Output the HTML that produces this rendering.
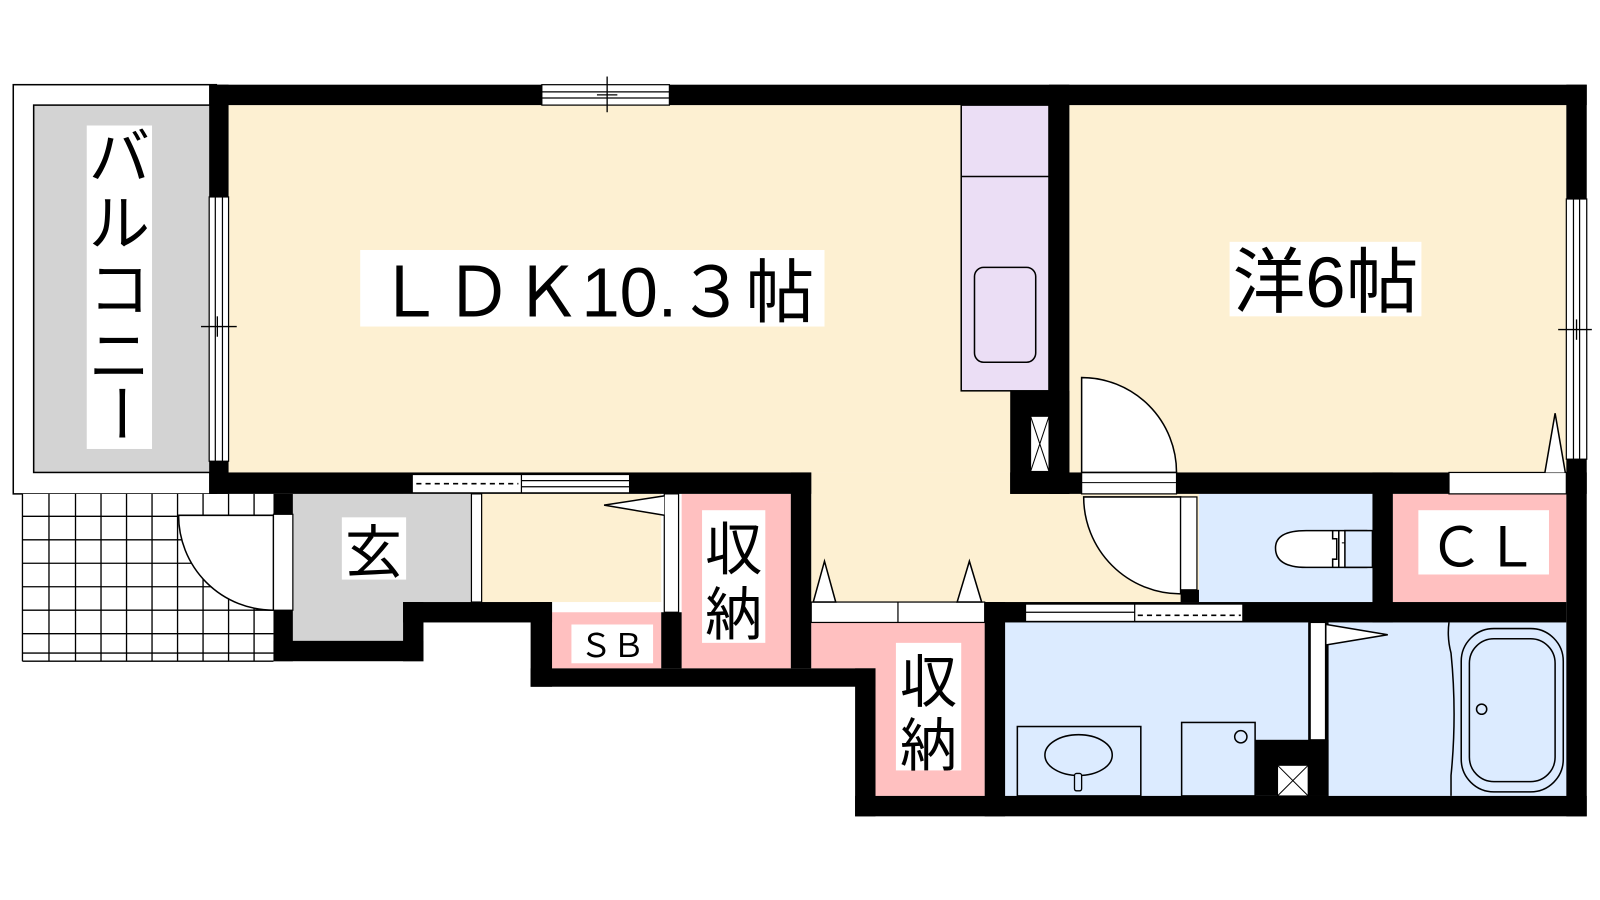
<!DOCTYPE html>
<html><head><meta charset="utf-8"><style>
html,body{margin:0;padding:0;background:#fff;}
svg{display:block}
text{font-family:"Liberation Sans","Noto Sans CJK JP",sans-serif;fill:#000}
</style></head><body>
<svg width="1600" height="900" viewBox="0 0 1568 882" xmlns="http://www.w3.org/2000/svg">
<rect width="1568" height="882" fill="#fff"/>
<!-- balcony -->
<rect x="13" y="83" width="199" height="401" fill="#fff" stroke="#000" stroke-width="1.5"/>
<rect x="33" y="103" width="175" height="360" fill="#d3d3d3" stroke="#000" stroke-width="1.5"/>
<!-- tile area -->
<rect x="22" y="484" width="246" height="164" fill="#fff"/>
<g stroke="#000" stroke-width="1.3">
<line x1="22" y1="484" x2="22" y2="648"/><line x1="48" y1="484" x2="48" y2="648"/><line x1="74" y1="484" x2="74" y2="648"/><line x1="99" y1="484" x2="99" y2="648"/><line x1="124" y1="484" x2="124" y2="648"/><line x1="149" y1="484" x2="149" y2="648"/><line x1="174" y1="484" x2="174" y2="648"/><line x1="199" y1="484" x2="199" y2="648"/><line x1="224" y1="484" x2="224" y2="648"/><line x1="249" y1="484" x2="249" y2="648"/>
<line x1="22" y1="506" x2="268" y2="506"/><line x1="22" y1="529" x2="268" y2="529"/><line x1="22" y1="552" x2="268" y2="552"/><line x1="22" y1="575" x2="268" y2="575"/><line x1="22" y1="598" x2="268" y2="598"/><line x1="22" y1="621" x2="268" y2="621"/><line x1="22" y1="640" x2="268" y2="640"/><line x1="22" y1="648" x2="268" y2="648"/>
</g>
<path d="M268,505 L175,505 A93,93 0 0 0 268,598 Z" fill="#fff" stroke="#000" stroke-width="1.5"/>
<!-- room fills -->
<rect x="224" y="103" width="790" height="360" fill="#fdf0d2"/>
<rect x="1048" y="103" width="487" height="360" fill="#fdf0d2"/>
<rect x="472" y="484" width="176" height="106" fill="#fdf0d2"/>
<rect x="795" y="463" width="380" height="140" fill="#fdf0d2"/>
<rect x="287" y="484" width="177" height="106" fill="#d3d3d3"/>
<rect x="287" y="484" width="108" height="144" fill="#d3d3d3"/>
<rect x="668" y="484" width="107" height="171" fill="#ffc0c0"/>
<rect x="541" y="600" width="107" height="55" fill="#ffc0c0"/>
<rect x="795" y="610" width="170" height="45" fill="#ffc0c0"/>
<rect x="858" y="610" width="107" height="170" fill="#ffc0c0"/>
<rect x="1175" y="484" width="170" height="106" fill="#dcebff"/>
<rect x="1365" y="484" width="170" height="106" fill="#ffc0c0"/>
<rect x="985" y="610" width="550" height="170" fill="#dcebff"/>
<!-- kitchen -->
<rect x="942" y="103" width="86" height="280" fill="#ebdef5" stroke="#000" stroke-width="1.5"/>
<line x1="942" y1="173" x2="1028" y2="173" stroke="#000" stroke-width="1.5"/>
<rect x="955" y="262" width="60" height="93" rx="9" fill="none" stroke="#000" stroke-width="1.5"/>
<!-- walls -->
<g fill="#000">
<rect x="205" y="83" width="1350" height="20"/>
<rect x="205" y="83" width="19" height="110"/>
<rect x="205" y="452" width="19" height="32"/>
<rect x="205" y="463" width="590" height="21"/>
<rect x="775" y="463" width="20" height="192"/>
<rect x="268" y="484" width="19" height="20"/>
<rect x="268" y="598" width="19" height="50"/>
<rect x="268" y="628" width="147" height="20"/>
<rect x="395" y="590" width="20" height="58"/>
<rect x="395" y="590" width="146" height="20"/>
<rect x="520" y="590" width="21" height="83"/>
<rect x="648" y="600" width="20" height="55"/>
<rect x="520" y="655" width="338" height="18"/>
<rect x="838" y="655" width="20" height="145"/>
<rect x="838" y="780" width="717" height="20"/>
<rect x="965" y="590" width="20" height="210"/>
<rect x="965" y="590" width="570" height="20"/>
<rect x="1535" y="83" width="20" height="717"/>
<rect x="1028" y="83" width="20" height="401"/>
<rect x="990" y="383" width="58" height="101"/>
<rect x="990" y="463" width="565" height="21"/>
<rect x="1345" y="463" width="20" height="147"/>
<rect x="1157" y="578" width="18" height="12"/>
<rect x="1230" y="725" width="72" height="55"/>
<rect x="1282" y="610" width="20" height="170"/>
</g>
<!-- windows / openings -->
<rect x="531" y="83" width="125" height="20" fill="#fff" stroke="#000" stroke-width="1.2"/>
<line x1="531" y1="90" x2="656" y2="90" stroke="#000" stroke-width="1.2"/>
<line x1="531" y1="96" x2="656" y2="96" stroke="#000" stroke-width="1.2"/>
<line x1="595" y1="75" x2="595" y2="110" stroke="#000" stroke-width="1.3"/>
<line x1="585" y1="93" x2="605" y2="93" stroke="#000" stroke-width="1.3"/>
<rect x="205" y="193" width="19" height="259" fill="#fff" stroke="#000" stroke-width="1.2"/>
<line x1="211" y1="193" x2="211" y2="452" stroke="#000" stroke-width="1.2"/>
<line x1="218" y1="193" x2="218" y2="452" stroke="#000" stroke-width="1.2"/>
<line x1="197" y1="320" x2="232" y2="320" stroke="#000" stroke-width="1.3"/>
<line x1="213" y1="310" x2="213" y2="330" stroke="#000" stroke-width="1.3"/>
<rect x="1535" y="195" width="20" height="255" fill="#fff" stroke="#000" stroke-width="1.2"/>
<line x1="1542" y1="195" x2="1542" y2="450" stroke="#000" stroke-width="1.2"/>
<line x1="1548" y1="195" x2="1548" y2="450" stroke="#000" stroke-width="1.2"/>
<line x1="1527" y1="323" x2="1560" y2="323" stroke="#000" stroke-width="1.3"/>
<line x1="1545" y1="313" x2="1545" y2="333" stroke="#000" stroke-width="1.3"/>
<!-- LDK/genkan sliding window -->
<rect x="404" y="465" width="213" height="18" fill="#fff" stroke="#000" stroke-width="1.2"/>
<line x1="511" y1="465" x2="511" y2="483" stroke="#000" stroke-width="1.2"/>
<line x1="511" y1="471" x2="617" y2="471" stroke="#000" stroke-width="1.2"/>
<line x1="511" y1="477" x2="617" y2="477" stroke="#000" stroke-width="1.2"/>
<line x1="408" y1="474" x2="508" y2="474" stroke="#000" stroke-width="1.5" stroke-dasharray="5,4"/>
<!-- genkan/corridor step -->
<rect x="462" y="484" width="10" height="106" fill="#fff" stroke="#000" stroke-width="1.2"/>
<!-- genkan door leaf -->
<rect x="268" y="504" width="19" height="94" fill="#fff" stroke="#000" stroke-width="1.2"/>
<!-- storage door -->
<rect x="651" y="484" width="14" height="116" fill="#fff" stroke="#000" stroke-width="1.2"/>
<path d="M651,486 L592,495 L651,505" fill="#fff" stroke="#000" stroke-width="1.5"/>
<!-- lower storage sliding -->
<rect x="795" y="590" width="170" height="20" fill="#fff" stroke="#000" stroke-width="1.2"/>
<line x1="880" y1="590" x2="880" y2="610" stroke="#000" stroke-width="1.2"/>
<path d="M797,590 L808,550 L819,590 Z" fill="#fff" stroke="#000" stroke-width="1.5"/>
<path d="M938,590 L950,550 L962,590 Z" fill="#fff" stroke="#000" stroke-width="1.5"/>
<!-- washroom sliding -->
<rect x="1005" y="592" width="213" height="17" fill="#fff" stroke="#000" stroke-width="1.2"/>
<line x1="1005" y1="600" x2="1112" y2="600" stroke="#000" stroke-width="1.2"/>
<line x1="1112" y1="592" x2="1112" y2="609" stroke="#000" stroke-width="1.2"/>
<line x1="1115" y1="603" x2="1216" y2="603" stroke="#000" stroke-width="1.5" stroke-dasharray="5,4"/>
<!-- kitchen pipe X -->
<rect x="1010" y="408" width="18" height="54" fill="#fff" stroke="#000" stroke-width="1"/>
<path d="M1010,408 L1028,462 M1028,408 L1010,462" stroke="#000" stroke-width="1"/>
<!-- western room door -->
<rect x="1060" y="463" width="93" height="21" fill="#fff" stroke="#000" stroke-width="1.2"/>
<line x1="1060" y1="473" x2="1153" y2="473" stroke="#000" stroke-width="1"/>
<path d="M1060,463 L1060,370 A93,93 0 0 1 1153,463 Z" fill="#fff" stroke="#000" stroke-width="1.5"/>
<!-- CL door -->
<rect x="1420" y="463" width="115" height="21" fill="#fff" stroke="#000" stroke-width="1.2"/>
<path d="M1514,463 L1524,405 L1534,463" fill="#fff" stroke="#000" stroke-width="1.5"/>
<!-- toilet door -->
<path d="M1157,487 L1062,487 A95,95 0 0 0 1157,582 Z" fill="#fff" stroke="#000" stroke-width="1.5"/>
<rect x="1157" y="487" width="16" height="91" fill="#fff" stroke="#000" stroke-width="1.2"/>
<!-- toilet -->
<path d="M1340,520 L1280,520 Q1250,520 1250,537 Q1250,556 1280,556 L1340,556" fill="#fff" stroke="#000" stroke-width="1.5"/>
<path d="M1306,520 L1306,528 L1310,528 L1310,548 L1306,548 L1306,556 M1312,520 L1312,556" fill="none" stroke="#000" stroke-width="1.5"/>
<rect x="1318" y="520" width="27" height="36" fill="#dcebff" stroke="#000" stroke-width="1.5"/>
<line x1="1315" y1="532" x2="1318" y2="532" stroke="#000"/>
<!-- bath -->
<path d="M1420,610 Q1418,625 1422,640 Q1428,700 1422,760 L1422,780" fill="none" stroke="#000" stroke-width="1.5"/>
<rect x="1432" y="616" width="100" height="160" rx="32" fill="none" stroke="#000" stroke-width="1.5"/>
<rect x="1440" y="626" width="84" height="140" rx="24" fill="none" stroke="#000" stroke-width="1.5"/>
<circle cx="1452" cy="695" r="5" fill="none" stroke="#000" stroke-width="1.5"/>
<!-- washroom door -->
<rect x="1284" y="610" width="15" height="115" fill="#fff" stroke="#000" stroke-width="1.2"/>
<path d="M1300,612 L1360,622 L1300,632" fill="#fff" stroke="#000" stroke-width="1.5"/>
<rect x="1252" y="750" width="30" height="30" fill="#fff" stroke="#000" stroke-width="1"/>
<path d="M1252,750 L1282,780 M1282,750 L1252,780" stroke="#000" stroke-width="1"/>
<!-- sink -->
<rect x="997" y="712" width="121" height="68" fill="none" stroke="#000" stroke-width="1.5"/>
<ellipse cx="1057" cy="740" rx="33" ry="20" fill="none" stroke="#000" stroke-width="1.5"/>
<rect x="1053" y="758" width="7" height="17" rx="2" fill="#dcebff" stroke="#000" stroke-width="1.3"/>
<rect x="1158" y="708" width="72" height="72" fill="none" stroke="#000" stroke-width="1.5"/>
<circle cx="1216" cy="722" r="6" fill="none" stroke="#000" stroke-width="1.5"/>
<!-- labels -->
<rect x="353" y="245" width="455" height="75" fill="#fff"/>
<text x="368" y="310" font-size="68" textLength="430" lengthAdjust="spacingAndGlyphs">ＬＤＫ10.３帖</text>
<rect x="1205" y="237" width="188" height="73" fill="#fff"/>
<text x="1208" y="301" font-size="70" textLength="182" lengthAdjust="spacingAndGlyphs">洋6帖</text>
<rect x="85" y="123" width="64" height="317" fill="#fff"/>
<text font-size="60" x="117" text-anchor="middle"><tspan x="117" y="175">バ</tspan><tspan x="117" y="240">ル</tspan><tspan x="117" y="305">コ</tspan><tspan x="117" y="370">ニ</tspan></text>
<text font-size="60" x="0" y="0" text-anchor="middle" transform="translate(117,405) rotate(90) translate(0,20)">ー</text>
<rect x="335" y="507" width="63" height="61" fill="#fff"/>
<text x="366" y="561" font-size="56" text-anchor="middle">玄</text>
<rect x="688" y="500" width="62" height="130" fill="#fff"/>
<text x="719" y="558" font-size="56" text-anchor="middle">収</text>
<text x="719" y="622" font-size="56" text-anchor="middle">納</text>
<rect x="878" y="630" width="64" height="125" fill="#fff"/>
<text x="910" y="688" font-size="56" text-anchor="middle">収</text>
<text x="910" y="750" font-size="56" text-anchor="middle">納</text>
<rect x="560" y="612" width="80" height="38" fill="#fff"/>
<text x="600" y="644" font-size="32" text-anchor="middle">ＳＢ</text>
<rect x="1390" y="500" width="128" height="63" fill="#fff"/>
<text x="1454" y="555" font-size="54" text-anchor="middle">ＣＬ</text>
</svg>
</body></html>
